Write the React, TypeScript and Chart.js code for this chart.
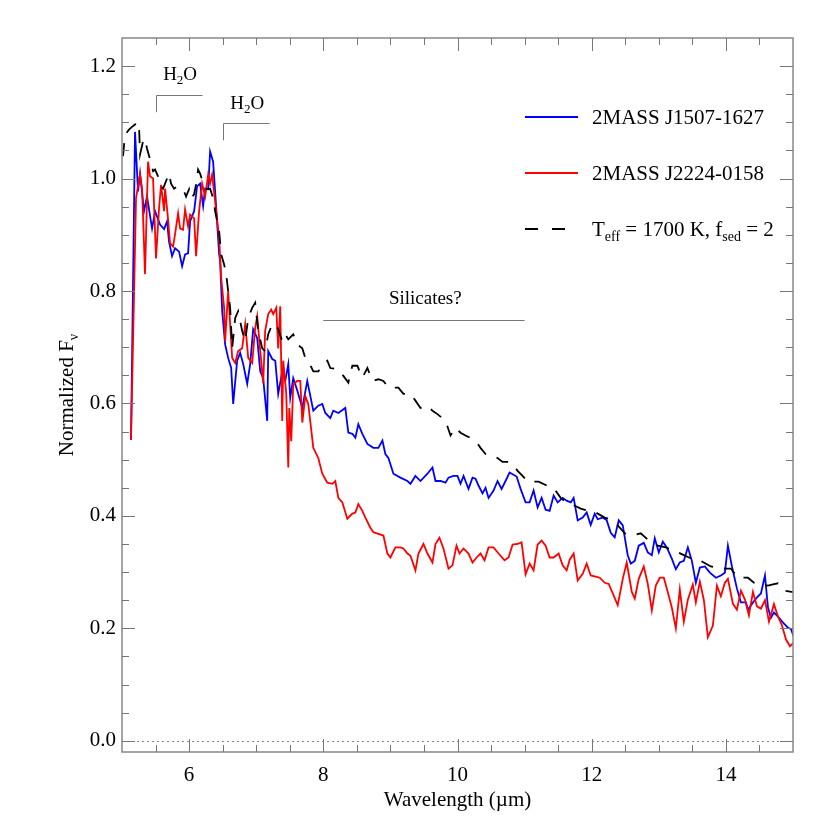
import React, { useEffect, useRef } from 'react';
import { Chart, registerables } from 'chart.js';

Chart.register(...registerables);

const FONT = '"Liberation Serif", "Times New Roman", Times, serif';

// Axis ticks
const xTickValues = [6, 8, 10, 12, 14];
const yTickValues = [0, 0.2, 0.4, 0.6, 0.8, 1.0, 1.2];

// Legend names
const seriesNames = ['2MASS J1507-1627', '2MASS J2224-0158'];
const modelLabel = [
  { t: 'T' }, { t: 'eff', sub: true }, { t: ' = 1700 K, f' }, { t: 'sed', sub: true }, { t: ' = 2' },
];

// 2MASS J1507-1627 (blue)
const blueWl = [
  5.134, 5.194, 5.239, 5.269, 5.328, 5.373, 5.448, 5.493, 5.567, 5.627,
  5.672, 5.701, 5.746, 5.791, 5.851, 5.896, 5.940, 5.985, 6.015, 6.075,
  6.119, 6.164, 6.209, 6.239, 6.284, 6.313, 6.358, 6.388, 6.448, 6.463,
  6.493, 6.537, 6.582, 6.627, 6.657, 6.716, 6.761, 6.806, 6.866, 6.910,
  6.955, 7.015, 7.060, 7.104, 7.164, 7.179, 7.239, 7.284, 7.328, 7.388,
  7.433, 7.478, 7.507, 7.552, 7.612, 7.687, 7.761, 7.851, 7.925, 7.985,
  8.030, 8.104, 8.149, 8.224, 8.328, 8.373, 8.433, 8.478, 8.522, 8.582,
  8.657, 8.746, 8.821, 8.881, 8.925, 8.970, 9.045, 9.149, 9.254, 9.299,
  9.373, 9.448, 9.552, 9.627, 9.672, 9.746, 9.821, 9.866, 9.940, 10.000,
  10.045, 10.090, 10.164, 10.224, 10.269, 10.313, 10.373, 10.418, 10.463, 10.537,
  10.597, 10.657, 10.716, 10.776, 10.881, 10.940, 11.015, 11.075, 11.134, 11.194,
  11.254, 11.313, 11.373, 11.433, 11.493, 11.567, 11.627, 11.687, 11.731, 11.791,
  11.866, 11.925, 11.985, 12.045, 12.090, 12.164, 12.224, 12.284, 12.343, 12.403,
  12.463, 12.537, 12.582, 12.642, 12.701, 12.776, 12.836, 12.896, 12.940, 13.000,
  13.060, 13.119, 13.194, 13.254, 13.313, 13.373, 13.433, 13.493, 13.552, 13.612,
  13.687, 13.761, 13.851, 13.925, 13.985, 14.030, 14.090, 14.164, 14.224, 14.299,
  14.328, 14.403, 14.463, 14.522, 14.582, 14.627, 14.672, 14.716, 14.776, 14.851,
  14.925, 14.970, 15.015,
];
const blueFlux = [
  0.535, 1.083, 0.977, 1.009, 0.942, 0.968, 0.911, 0.942, 0.918, 0.910,
  0.924, 0.888, 0.862, 0.876, 0.870, 0.844, 0.865, 0.867, 0.924, 0.942,
  0.986, 0.991, 0.951, 0.982, 0.981, 1.048, 1.030, 0.977, 0.865, 0.853,
  0.764, 0.705, 0.681, 0.663, 0.599, 0.676, 0.690, 0.670, 0.635, 0.670,
  0.732, 0.716, 0.657, 0.645, 0.569, 0.693, 0.679, 0.676, 0.617, 0.657,
  0.640, 0.670, 0.610, 0.645, 0.623, 0.592, 0.640, 0.587, 0.596, 0.599,
  0.583, 0.574, 0.587, 0.583, 0.592, 0.548, 0.546, 0.539, 0.563, 0.546,
  0.528, 0.521, 0.521, 0.534, 0.510, 0.503, 0.475, 0.468, 0.462, 0.457,
  0.471, 0.462, 0.475, 0.486, 0.462, 0.462, 0.459, 0.468, 0.471, 0.471,
  0.457, 0.471, 0.448, 0.468, 0.466, 0.454, 0.440, 0.450, 0.432, 0.445,
  0.462, 0.448, 0.462, 0.477, 0.470, 0.448, 0.424, 0.424, 0.445, 0.415,
  0.432, 0.411, 0.409, 0.436, 0.424, 0.432, 0.427, 0.424, 0.432, 0.392,
  0.397, 0.406, 0.384, 0.404, 0.394, 0.397, 0.392, 0.370, 0.362, 0.392,
  0.383, 0.330, 0.315, 0.320, 0.347, 0.352, 0.335, 0.330, 0.360, 0.335,
  0.354, 0.344, 0.324, 0.305, 0.317, 0.320, 0.344, 0.320, 0.281, 0.308,
  0.310, 0.299, 0.290, 0.294, 0.299, 0.347, 0.310, 0.271, 0.246, 0.246,
  0.233, 0.246, 0.255, 0.262, 0.294, 0.237, 0.219, 0.228, 0.221, 0.210,
  0.201, 0.199, 0.184,
];

// 2MASS J2224-0158 (red)
const redWl = [
  5.134, 5.209, 5.254, 5.269, 5.299, 5.328, 5.343, 5.388, 5.418, 5.463,
  5.507, 5.552, 5.582, 5.627, 5.642, 5.687, 5.716, 5.761, 5.791, 5.836,
  5.866, 5.910, 5.940, 5.985, 6.015, 6.075, 6.104, 6.149, 6.194, 6.239,
  6.284, 6.313, 6.343, 6.388, 6.448, 6.478, 6.522, 6.537, 6.582, 6.642,
  6.687, 6.731, 6.791, 6.836, 6.881, 6.940, 6.985, 7.015, 7.045, 7.104,
  7.134, 7.179, 7.224, 7.254, 7.299, 7.328, 7.358, 7.388, 7.403, 7.448,
  7.478, 7.493, 7.522, 7.552, 7.612, 7.657, 7.687, 7.731, 7.776, 7.851,
  7.925, 7.985, 8.060, 8.134, 8.179, 8.224, 8.284, 8.358, 8.433, 8.478,
  8.522, 8.582, 8.627, 8.701, 8.746, 8.821, 8.896, 8.955, 9.000, 9.075,
  9.149, 9.194, 9.254, 9.299, 9.373, 9.418, 9.493, 9.552, 9.627, 9.672,
  9.731, 9.791, 9.866, 9.925, 9.985, 10.030, 10.090, 10.164, 10.224, 10.284,
  10.343, 10.403, 10.463, 10.537, 10.612, 10.701, 10.761, 10.821, 10.896, 10.955,
  11.015, 11.075, 11.134, 11.194, 11.254, 11.313, 11.373, 11.433, 11.507, 11.567,
  11.627, 11.672, 11.731, 11.791, 11.866, 11.925, 11.985, 12.060, 12.119, 12.194,
  12.254, 12.328, 12.388, 12.463, 12.522, 12.597, 12.642, 12.701, 12.776, 12.836,
  12.896, 12.955, 13.015, 13.075, 13.134, 13.194, 13.254, 13.313, 13.373, 13.433,
  13.507, 13.552, 13.612, 13.672, 13.731, 13.806, 13.866, 13.925, 13.985, 14.030,
  14.104, 14.164, 14.224, 14.284, 14.343, 14.403, 14.463, 14.522, 14.582, 14.642,
  14.716, 14.776, 14.836, 14.896, 14.955, 15.015,
];
const redFlux = [
  0.535, 0.965, 0.998, 1.007, 0.982, 0.883, 0.830, 1.030, 1.004, 1.000,
  0.858, 0.947, 0.989, 0.942, 0.982, 0.927, 0.885, 0.879, 0.901, 0.938,
  0.911, 0.909, 0.945, 0.915, 0.936, 0.929, 0.862, 0.942, 0.991, 0.968,
  1.007, 0.991, 1.007, 0.959, 0.894, 0.823, 0.770, 0.710, 0.800, 0.681,
  0.672, 0.693, 0.698, 0.741, 0.681, 0.672, 0.734, 0.755, 0.714, 0.636,
  0.729, 0.759, 0.767, 0.759, 0.770, 0.698, 0.773, 0.569, 0.676, 0.617,
  0.486, 0.592, 0.533, 0.634, 0.640, 0.640, 0.566, 0.613, 0.599, 0.521,
  0.503, 0.475, 0.459, 0.457, 0.462, 0.432, 0.424, 0.395, 0.404, 0.406,
  0.421, 0.409, 0.397, 0.379, 0.371, 0.368, 0.365, 0.333, 0.326, 0.344,
  0.344, 0.342, 0.333, 0.329, 0.303, 0.333, 0.350, 0.333, 0.317, 0.350,
  0.361, 0.342, 0.306, 0.312, 0.347, 0.333, 0.342, 0.333, 0.317, 0.326,
  0.333, 0.321, 0.344, 0.344, 0.333, 0.321, 0.326, 0.349, 0.350, 0.353,
  0.296, 0.315, 0.303, 0.349, 0.356, 0.347, 0.326, 0.326, 0.333, 0.312,
  0.303, 0.322, 0.333, 0.285, 0.297, 0.315, 0.294, 0.292, 0.290, 0.281,
  0.279, 0.258, 0.241, 0.288, 0.317, 0.265, 0.253, 0.288, 0.310, 0.279,
  0.232, 0.276, 0.290, 0.290, 0.264, 0.237, 0.200, 0.269, 0.212, 0.251,
  0.278, 0.246, 0.283, 0.250, 0.184, 0.205, 0.276, 0.257, 0.281, 0.288,
  0.244, 0.233, 0.267, 0.251, 0.223, 0.265, 0.239, 0.235, 0.250, 0.212,
  0.243, 0.221, 0.205, 0.180, 0.168, 0.175,
];

// Model Teff = 1700 K, fsed = 2 (black dashed)
const modelWl = [
  5.015, 5.045, 5.104, 5.149, 5.194, 5.224, 5.254, 5.269, 5.313, 5.343,
  5.373, 5.418, 5.463, 5.493, 5.537, 5.567, 5.612, 5.642, 5.701, 5.731,
  5.776, 5.821, 5.866, 5.925, 5.955, 6.000, 6.030, 6.075, 6.104, 6.134,
  6.164, 6.224, 6.269, 6.313, 6.358, 6.388, 6.448, 6.478, 6.522, 6.552,
  6.582, 6.612, 6.642, 6.687, 6.731, 6.791, 6.836, 6.881, 6.940, 6.985,
  7.030, 7.090, 7.134, 7.179, 7.239, 7.284, 7.328, 7.388, 7.433, 7.478,
  7.552, 7.612, 7.687, 7.731, 7.776, 7.851, 7.925, 8.000, 8.060, 8.104,
  8.209, 8.254, 8.299, 8.373, 8.433, 8.507, 8.582, 8.657, 8.731, 8.821,
  8.896, 8.970, 9.119, 9.194, 9.299, 9.373, 9.448, 9.552, 9.627, 9.701,
  9.821, 9.896, 9.970, 10.045, 10.119, 10.269, 10.343, 10.418, 10.597, 10.672,
  10.746, 10.806, 10.896, 10.970, 11.045, 11.209, 11.313, 11.433, 11.537, 11.627,
  11.716, 11.836, 11.940, 12.060, 12.194, 12.313, 12.388, 12.493, 12.612, 12.731,
  12.851, 12.985, 13.104, 13.254, 13.358, 13.448, 13.627, 13.776, 13.851, 14.000,
  14.075, 14.179, 14.328, 14.418, 14.493, 14.627, 14.701, 14.776, 14.866, 15.015,
];
const modelFlux = [
  1.040, 1.078, 1.087, 1.092, 1.096, 1.101, 1.092, 1.043, 1.066, 1.071,
  1.053, 1.034, 1.013, 1.016, 1.004, 0.990, 0.982, 0.991, 1.009, 0.991,
  0.982, 0.986, 0.982, 0.977, 0.968, 0.981, 0.965, 0.972, 0.990, 1.016,
  1.009, 0.986, 0.981, 0.982, 0.965, 0.942, 0.906, 0.865, 0.847, 0.830,
  0.800, 0.770, 0.698, 0.752, 0.764, 0.729, 0.711, 0.752, 0.770, 0.779,
  0.729, 0.698, 0.693, 0.723, 0.741, 0.741, 0.732, 0.711, 0.723, 0.714,
  0.723, 0.705, 0.698, 0.681, 0.676, 0.657, 0.657, 0.670, 0.676, 0.663,
  0.661, 0.657, 0.649, 0.637, 0.667, 0.667, 0.646, 0.663, 0.640, 0.643,
  0.640, 0.628, 0.628, 0.617, 0.617, 0.605, 0.592, 0.596, 0.587, 0.581,
  0.569, 0.543, 0.557, 0.548, 0.543, 0.534, 0.521, 0.510, 0.503, 0.496,
  0.496, 0.494, 0.480, 0.471, 0.461, 0.461, 0.455, 0.450, 0.432, 0.424,
  0.420, 0.413, 0.409, 0.406, 0.397, 0.392, 0.383, 0.369, 0.365, 0.369,
  0.356, 0.347, 0.344, 0.337, 0.331, 0.326, 0.320, 0.310, 0.308, 0.306,
  0.306, 0.290, 0.290, 0.281, 0.278, 0.276, 0.278, 0.280, 0.267, 0.264,
];

type Part = { t: string; sub?: boolean };

function drawRich(
  ctx: CanvasRenderingContext2D,
  parts: Part[],
  x: number,
  y: number,
  align: 'left' | 'center',
  size: number,
  subSize: number,
  subDy: number
) {
  const widths = parts.map((p) => {
    ctx.font = `${p.sub ? subSize : size}px ${FONT}`;
    return ctx.measureText(p.t).width;
  });
  const total = widths.reduce((a, b) => a + b, 0);
  let cx = align === 'center' ? x - total / 2 : x;
  ctx.textAlign = 'left';
  ctx.textBaseline = 'alphabetic';
  parts.forEach((p, i) => {
    ctx.font = `${p.sub ? subSize : size}px ${FONT}`;
    ctx.fillText(p.t, cx, y + (p.sub ? subDy : 0));
    cx += widths[i];
  });
}

const decorPlugin = {
  id: 'decor',
  beforeDatasetsDraw(chart: any) {
    const ctx: CanvasRenderingContext2D = chart.ctx;
    const { left, right } = chart.chartArea;
    const y0 = chart.scales.y.getPixelForValue(0);
    ctx.save();
    ctx.strokeStyle = '#888';
    ctx.lineWidth = 1;
    ctx.setLineDash([2, 3]);
    ctx.beginPath();
    ctx.moveTo(left, Math.round(y0) + 0.5);
    ctx.lineTo(right, Math.round(y0) + 0.5);
    ctx.stroke();
    ctx.restore();
  },
  afterDatasetsDraw(chart: any) {
    const ctx: CanvasRenderingContext2D = chart.ctx;
    const { left, right, top, bottom } = chart.chartArea;
    const xs = chart.scales.x;
    const ys = chart.scales.y;
    const px = (v: number) => xs.getPixelForValue(v);
    const py = (v: number) => ys.getPixelForValue(v);
    ctx.save();

    // axes box
    ctx.strokeStyle = '#888';
    ctx.lineWidth = 1.5;
    ctx.setLineDash([]);
    ctx.strokeRect(left, top, right - left, bottom - top);

    // ticks, inward on all sides
    ctx.strokeStyle = '#777';
    ctx.lineWidth = 1;
    const major = 13;
    const minor = 7;
    ctx.beginPath();
    for (let k = 11; k < 30; k++) {
      const v = k / 2;
      const x = Math.round(px(v)) + 0.5;
      const len = xTickValues.includes(v) ? major : minor;
      ctx.moveTo(x, bottom);
      ctx.lineTo(x, bottom - len);
      ctx.moveTo(x, top);
      ctx.lineTo(x, top + len);
    }
    for (let k = 0; k < 25; k++) {
      const v = k / 20;
      const y = Math.round(py(v)) + 0.5;
      const len = k % 4 === 0 ? major : minor;
      ctx.moveTo(left, y);
      ctx.lineTo(left + len, y);
      ctx.moveTo(right, y);
      ctx.lineTo(right - len, y);
    }
    ctx.stroke();

    // annotation brackets
    ctx.strokeStyle = '#777';
    ctx.lineWidth = 1;
    ctx.beginPath();
    ctx.moveTo(Math.round(px(5.5)) + 0.5, py(1.118));
    ctx.lineTo(Math.round(px(5.5)) + 0.5, Math.round(py(1.148)) + 0.5);
    ctx.lineTo(px(6.2), Math.round(py(1.148)) + 0.5);
    ctx.moveTo(Math.round(px(6.5)) + 0.5, py(1.068));
    ctx.lineTo(Math.round(px(6.5)) + 0.5, Math.round(py(1.098)) + 0.5);
    ctx.lineTo(px(7.2), Math.round(py(1.098)) + 0.5);
    ctx.moveTo(px(8), Math.round(py(0.748)) + 0.5);
    ctx.lineTo(px(11), Math.round(py(0.748)) + 0.5);
    ctx.stroke();

    ctx.fillStyle = '#000';
    const h2o: Part[] = [{ t: 'H' }, { t: '2', sub: true }, { t: 'O' }];
    drawRich(ctx, h2o, px(5.866), py(1.176), 'center', 19, 13, 4);
    drawRich(ctx, h2o, px(6.866), py(1.124), 'center', 19, 13, 4);
    drawRich(ctx, [{ t: 'Silicates?' }], px(9.52), py(0.777), 'center', 19, 13, 4);

    // legend
    const lx0 = 525;
    const lx1 = 578;
    const tx = 592;
    const rows = [117, 173, 229];
    ctx.lineWidth = 2;
    ctx.strokeStyle = '#0000ff';
    ctx.beginPath();
    ctx.moveTo(lx0, rows[0]);
    ctx.lineTo(lx1, rows[0]);
    ctx.stroke();
    ctx.strokeStyle = '#ff0000';
    ctx.beginPath();
    ctx.moveTo(lx0, rows[1]);
    ctx.lineTo(lx1, rows[1]);
    ctx.stroke();
    ctx.strokeStyle = '#000';
    ctx.setLineDash([13, 14]);
    ctx.beginPath();
    ctx.moveTo(lx0, rows[2]);
    ctx.lineTo(lx0 + 40, rows[2]);
    ctx.stroke();
    ctx.setLineDash([]);
    drawRich(ctx, [{ t: seriesNames[0] }], tx, rows[0] + 7, 'left', 21, 14, 5);
    drawRich(ctx, [{ t: seriesNames[1] }], tx, rows[1] + 7, 'left', 21, 14, 5);
    drawRich(ctx, modelLabel, tx, rows[2] + 7, 'left', 21, 14, 5);

    // axis titles
    drawRich(ctx, [{ t: 'Wavelength (\u00b5m)' }], (left + right) / 2, 806, 'center', 21, 14, 5);
    ctx.translate(73, (top + bottom) / 2);
    ctx.rotate(-Math.PI / 2);
    drawRich(ctx, [{ t: 'Normalized F' }, { t: '\u03bd', sub: true }], 0, 0, 'center', 21, 14, 5);

    ctx.restore();
  },
};

export default function App() {
  const ref = useRef<HTMLCanvasElement | null>(null);
  useEffect(() => {
    const canvas = ref.current;
    if (!canvas) return;
    const toPts = (xs: number[], ys: number[]) => xs.map((x, i) => ({ x, y: ys[i] }));
    const chart = new Chart(canvas, {
      type: 'line',
      data: {
        datasets: [
          {
            label: 'model',
            data: toPts(modelWl, modelFlux),
            borderColor: '#000000',
            borderWidth: 1.8,
            borderDash: [13, 11],
            pointRadius: 0,
            tension: 0,
            order: 0,
          },
          {
            label: seriesNames[1],
            data: toPts(redWl, redFlux),
            borderColor: '#ff0000',
            borderWidth: 1.8,
            pointRadius: 0,
            tension: 0,
            order: 1,
          },
          {
            label: seriesNames[0],
            data: toPts(blueWl, blueFlux),
            borderColor: '#0000ff',
            borderWidth: 1.8,
            pointRadius: 0,
            tension: 0,
            order: 2,
          },
        ],
      } as any,
      options: {
        animation: false,
        responsive: false,
        devicePixelRatio: 1,
        layout: { padding: { left: 0, top: 38, right: 37, bottom: 0 } },
        plugins: { legend: { display: false }, tooltip: { enabled: false }, title: { display: false } },
        scales: {
          x: {
            type: 'linear',
            min: 5,
            max: 15,
            grid: { display: false, drawTicks: false },
            border: { display: false },
            ticks: {
              color: '#000',
              font: { family: FONT, size: 21 },
              padding: 11,
              maxRotation: 0,
              autoSkip: false,
              callback: (v: any) => String(v),
            },
            afterBuildTicks: (a: any) => {
              a.ticks = xTickValues.map((value) => ({ value }));
            },
            afterFit: (a: any) => {
              a.height = 78;
            },
          },
          y: {
            type: 'linear',
            min: -0.02,
            max: 1.25,
            grid: { display: false, drawTicks: false },
            border: { display: false },
            ticks: {
              color: '#000',
              font: { family: FONT, size: 21 },
              padding: 6,
              autoSkip: false,
              callback: (v: any) => Number(v).toFixed(1),
            },
            afterBuildTicks: (a: any) => {
              a.ticks = yTickValues.map((value) => ({ value }));
            },
            afterFit: (a: any) => {
              a.width = 122;
            },
          },
        },
      } as any,
      plugins: [decorPlugin],
    });
    return () => chart.destroy();
  }, []);
  return (
    <div style={{ position: 'absolute', left: 0, top: 0, width: 830, height: 830, background: '#fff' }}>
      <canvas ref={ref} width={830} height={830} style={{ display: 'block' }} />
    </div>
  );
}
